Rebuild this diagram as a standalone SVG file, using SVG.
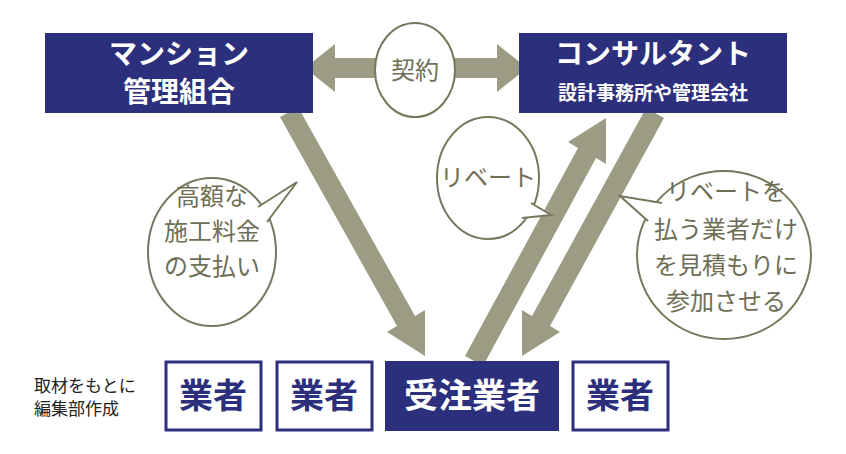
<svg xmlns="http://www.w3.org/2000/svg" width="846" height="454" viewBox="0 0 846 454">
<style>
text{font-family:"Noto Sans CJK JP","Noto Sans",sans-serif;}
.nv{fill:#2c2f7c}
.wb{fill:#fff;stroke:#2c2f7c;stroke-width:3}
.wt{fill:#fff;font-weight:bold}
.bt{fill:#2c2f7c;font-weight:bold}
.ar{fill:#9c9c84}
.bb{fill:#fff;stroke:#77775c;stroke-width:2}
.gt{fill:#6e6e55;font-size:24px;text-anchor:middle}
</style>
<rect width="846" height="454" fill="#fff"/>
<g id="connectors">
<polygon class="ar" points="305,68 335,44 335,58 497,58 497,44 527,68 497,92 497,78 335,78 335,92"/>
<polygon class="ar" points="280,117 298,107 415,316 425,310 425,356 387,332 397,326"/>
<polygon class="ar" points="465,356 578,148 568,142 606,118 606,164 596,158 483,366"/>
<polygon class="ar" points="646,108 664,118 550,326 560,332 522,356 522,310 532,316"/>
</g>
<g id="n-left"><rect class="nv" x="45" y="33" width="268" height="80"/>
<text class="wt" x="179" y="64" font-size="28" text-anchor="middle">マンション</text>
<text class="wt" x="179" y="102" font-size="28" text-anchor="middle">管理組合</text></g>
<g id="n-right"><rect class="nv" x="519" y="33" width="268" height="80"/>
<text class="wt" x="653" y="64" font-size="28" text-anchor="middle">コンサルタント</text>
<text class="wt" x="653" y="100" font-size="19" text-anchor="middle">設計事務所や管理会社</text></g>
<g id="n-contract"><ellipse class="bb" cx="415" cy="70" rx="40" ry="47"/>
<text class="gt" x="415" y="79">契約</text></g>
<g id="b1"><ellipse class="bb" cx="212" cy="252" rx="64" ry="74"/>
<path class="bb" d="M258,207 L297,182 L267,222"/>
<text class="gt" x="212" y="205">高額な</text>
<text class="gt" x="212" y="240">施工料金</text>
<text class="gt" x="212" y="275">の支払い</text></g>
<g id="b2"><ellipse class="bb" cx="488" cy="178" rx="51" ry="61"/>
<path class="bb" d="M531,203 L551,215 L522,218"/>
<text class="gt" x="488" y="186">リベート</text></g>
<g id="b3"><ellipse class="bb" cx="724" cy="255" rx="87" ry="84"/>
<path class="bb" d="M662,203 L620,196 L648,221"/>
<text class="gt" x="726" y="200">リベートを</text>
<text class="gt" x="726" y="238">払う業者だけ</text>
<text class="gt" x="726" y="274">を見積もりに</text>
<text class="gt" x="726" y="310">参加させる</text></g>
<g id="v1"><rect class="wb" x="166" y="362" width="95" height="68"/><text class="bt" x="213" y="408" font-size="34" text-anchor="middle">業者</text></g>
<g id="v2"><rect class="wb" x="277" y="362" width="95" height="68"/><text class="bt" x="324" y="408" font-size="34" text-anchor="middle">業者</text></g>
<g id="v3"><rect class="nv" x="385" y="361" width="174" height="70"/><text class="wt" x="472" y="408" font-size="34" text-anchor="middle">受注業者</text></g>
<g id="v4"><rect class="wb" x="573" y="362" width="95" height="68"/><text class="bt" x="620" y="408" font-size="34" text-anchor="middle">業者</text></g>
<g id="note"><text x="34" y="392" font-size="17" fill="#222">取材をもとに</text><text x="34" y="415" font-size="17" fill="#222">編集部作成</text></g>
</svg>
